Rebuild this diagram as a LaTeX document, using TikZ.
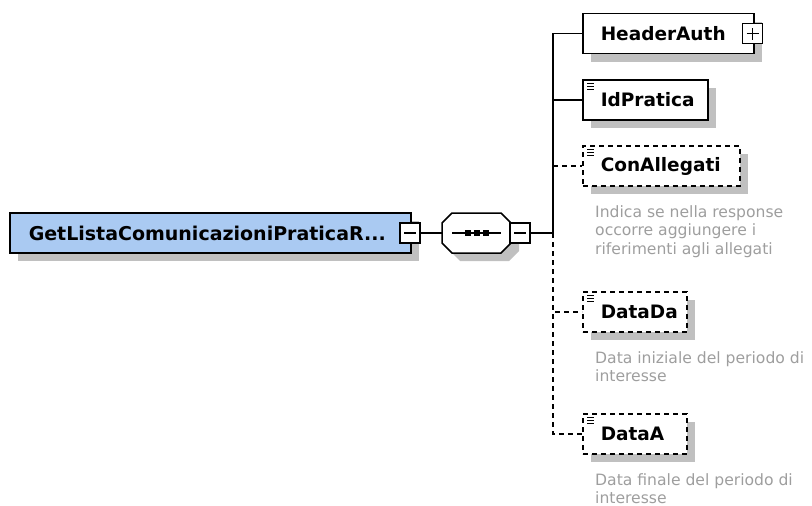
\documentclass[tikz,border=0pt]{standalone}
\usepackage{fontspec}
\setmainfont{DejaVu Sans}
\usetikzlibrary{shadows}
\definecolor{rootblue}{RGB}{170,202,242}
\definecolor{shadowgray}{RGB}{192,192,192}
\definecolor{desccol}{RGB}{158,158,158}
\newcommand\mytitlefont{\bfseries\fontsize{18.5}{22}\selectfont}
\newcommand\myrootfont{\bfseries\fontsize{19}{22}\selectfont}
\newcommand\mydescfont{\fontsize{15.6}{18.5}\selectfont}
\newcommand\docicon[1]{\foreach \k in {0,3,6}{\draw[line width=1.2pt,solid] ([shift={(5,4+\k)}]#1.north west) -- ++(6.5,0);}}
\tikzset{
  elem/.style={draw=black, line width=1.5pt, fill=white, rectangle, minimum height=40pt,
    inner xsep=18pt, inner ysep=0pt, align=left, font=\mytitlefont, anchor=west,
    drop shadow={shadow xshift=8pt, shadow yshift=-8pt, fill=shadowgray, opacity=1, draw=none}},
  opt/.style={elem, dash pattern=on 5pt off 4pt},
  ctrl/.style={draw=black, fill=white, line width=1.5pt, minimum size=20pt, inner sep=0pt},
  desc/.style={font=\mydescfont, text=desccol, align=left, inner sep=0pt, anchor=north west},
  conn/.style={line width=1.5pt},
  optconn/.style={line width=1.5pt, dash pattern=on 5pt off 4pt},
}
\begin{document}
\begin{tikzpicture}[x=1pt,y=-1pt]
\useasboundingbox (0,0) rectangle (812,506);
\clip (0,0) rectangle (812,506);
% root
\node[elem, fill=rootblue, font=\myrootfont, inner xsep=19pt, text width=363pt] (root) at (9,233) {GetListaComunicazioniPraticaR...};
\node[ctrl] (m1) at (410,233) {};
\draw[conn] ([xshift=-6pt]m1.center) -- ([xshift=6pt]m1.center);
% sequence octagon
\node[minimum width=69pt, minimum height=40pt, inner sep=0pt] (seq) at (476.5,233) {};
\fill[shadowgray, shift={(seq.center)}, xshift=8pt, yshift=-8pt]
  (-34.5,-10) -- (-24.5,-20) -- (24.5,-20) -- (34.5,-10) -- (34.5,10) -- (24.5,20) -- (-24.5,20) -- (-34.5,10) -- cycle;
\draw[conn, fill=white, shift={(seq.center)}]
  (-34.5,-10) -- (-24.5,-20) -- (24.5,-20) -- (34.5,-10) -- (34.5,10) -- (24.5,20) -- (-24.5,20) -- (-34.5,10) -- cycle;
\draw[conn] ([xshift=-24.5pt]seq.center) -- ([xshift=24.5pt]seq.center);
\foreach \dx in {-9,0,9}{\fill ([xshift=\dx pt]seq.center) +(-3,-3) rectangle +(3,3);}
\node[ctrl] (m2) at (520,233) {};
\draw[conn] ([xshift=-6pt]m2.center) -- ([xshift=6pt]m2.center);
\draw[conn] (m1.east) -- (seq.west);
\coordinate (jn) at (553,233);
\draw[conn] (m2.east) -- (jn);
% children
\node[elem, text width=135pt] (hdr) at (582,33.5) {HeaderAuth};
\node[ctrl] (p1) at (752.5,33.5) {};
\draw[conn] ([xshift=-6pt]p1.center) -- ([xshift=6pt]p1.center);
\draw[conn] ([yshift=-6pt]p1.center) -- ([yshift=6pt]p1.center);
\node[elem, text width=89pt] (idp) at (582,100) {IdPratica};
\docicon{idp}
\node[opt, text width=121pt] (con) at (582,166) {ConAllegati};
\docicon{con}
\node[desc] (cond) at (595,205) {Indica se nella response\\occorre aggiungere i\\riferimenti agli allegati};
\node[opt, text width=68pt] (dda) at (582,312) {DataDa};
\docicon{dda}
\node[desc] (ddad) at (595,351) {Data iniziale del periodo di\\interesse};
\node[opt, text width=68pt] (dta) at (582,434) {DataA};
\docicon{dta}
\node[desc] (dtad) at (595,473) {Data finale del periodo di\\interesse};
% connectors
\draw[conn] (jn) |- (hdr.west);
\draw[conn] (jn) |- (idp.west);
\draw[optconn] (con.west -| jn) -- (con.west);
\draw[optconn] (jn) |- (dda.west);
\draw[optconn] (jn) |- (dta.west);
\end{tikzpicture}
\end{document}
